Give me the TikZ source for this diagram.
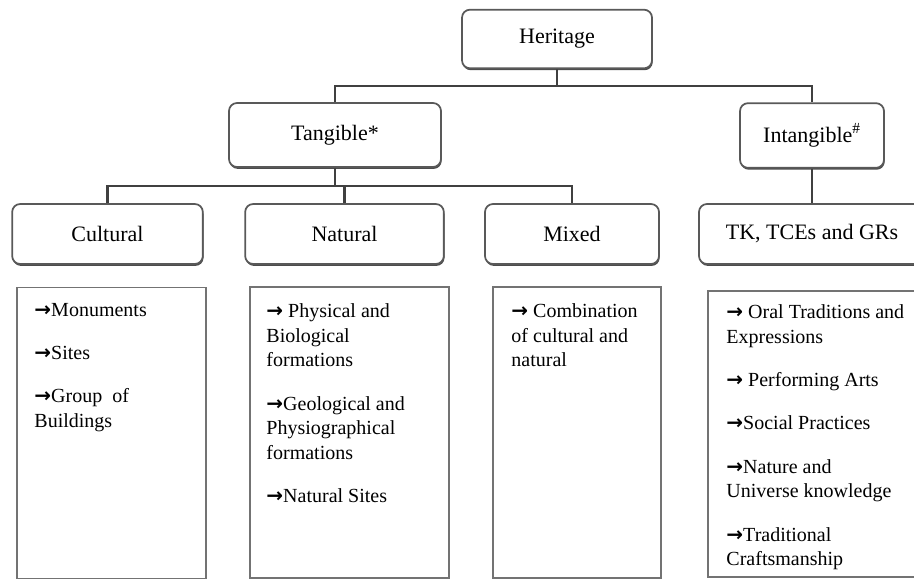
\documentclass[tikz,border=0pt]{standalone}
\usepackage{fontspec}
\setmainfont{Liberation Serif}
\newfontfamily\arrowfont{DejaVu Sans}
\usetikzlibrary{shadows,calc}
\newcommand{\rarr}{{\arrowfont\bfseries →}}

\begin{document}
\begin{tikzpicture}[x=0.75pt,y=-0.75pt,
    headbox/.style={draw=black!65,line width=1.3pt,rounded corners=6pt,fill=white,
      drop shadow={shadow xshift=0.5pt,shadow yshift=-1.4pt,opacity=1,fill=black!70},
      font=\fontsize{16.5}{20}\selectfont,minimum height=45pt},
    listbox/.style={draw=black!55,line width=1.2pt,minimum height=218pt},
    listtext/.style={anchor=north west,inner sep=0pt,align=left,
      font=\fontsize{15}{18.5}\selectfont},
    link/.style={draw=black!75,line width=2.2pt}]

  \useasboundingbox (0,0) rectangle (914,579);
  \clip (0,0) rectangle (914,579);

  % headings
  \node[headbox,minimum width=142.5pt,minimum height=44pt] (heritage)   at (557,39)    {Heritage};
  \node[headbox,minimum width=159pt,minimum height=48pt]   (tangible)   at (335,135)   {Tangible*};
  \node[headbox,minimum width=108pt,minimum height=48.5pt] (intangible) at (812,135.5) {Intangible\textsuperscript{\#}};
  \node[headbox,minimum width=143pt]   (cultural) at (107.5,234) {Cultural};
  \node[headbox,minimum width=149pt]   (natural)  at (344.5,234) {Natural};
  \node[headbox,minimum width=130.5pt] (mixed)    at (572,234)   {Mixed};
  \node[headbox,minimum width=169.5pt] (tk)       at (812,234)   {TK, TCEs and GRs};

  % connectors
  \coordinate (top) at (557,86);
  \coordinate (mid) at (335,186);
  \draw[link] (heritage.south) -- (top);
  \draw[link] (tangible.north) |- (top) -| (intangible.north);
  \draw[link] (tangible.south) -- (mid);
  \draw[link] (cultural.north) |- (mid) -| (mixed.north);
  \draw[link] (natural.north) -- (natural.north |- mid);
  \draw[link] (intangible.south) -- (tk.north);

  % lists
  \node[listbox,minimum width=141.75pt] (culturallist) at (111.5,433)  {};
  \node[listbox,minimum width=149.25pt] (naturallist)  at (349.5,432.5) {};
  \node[listbox,minimum width=126pt]    (mixedlist)    at (577,432.5)  {};
  \node[listbox,minimum width=172.5pt,minimum height=214.5pt] (tklist) at (823,434) {};

  \node[listtext] (culturaltext) at ($(culturallist.north west)+(18,16)$)
    {\rarr Monuments\\[14pt] \rarr Sites\\[14pt] \rarr Group\ \ of\\ Buildings};
  \node[listtext] (naturaltext) at ($(naturallist.north west)+(17,17)$)
    {\rarr\ Physical and\\ Biological\\ formations\\[14pt]
     \rarr Geological and\\ Physiographical\\ formations\\[14pt] \rarr Natural Sites};
  \node[listtext] (mixedtext) at ($(mixedlist.north west)+(19,17)$)
    {\rarr\ Combination\\ of cultural and\\ natural};
  \node[listtext] (tktext) at ($(tklist.north west)+(19,14)$)
    {\rarr\ Oral Traditions and\\ Expressions\\[14pt] \rarr\ Performing Arts\\[14pt]
     \rarr Social Practices\\[14pt] \rarr Nature and\\ Universe knowledge\\[14pt]
     \rarr Traditional\\ Craftsmanship};

\end{tikzpicture}
\end{document}
